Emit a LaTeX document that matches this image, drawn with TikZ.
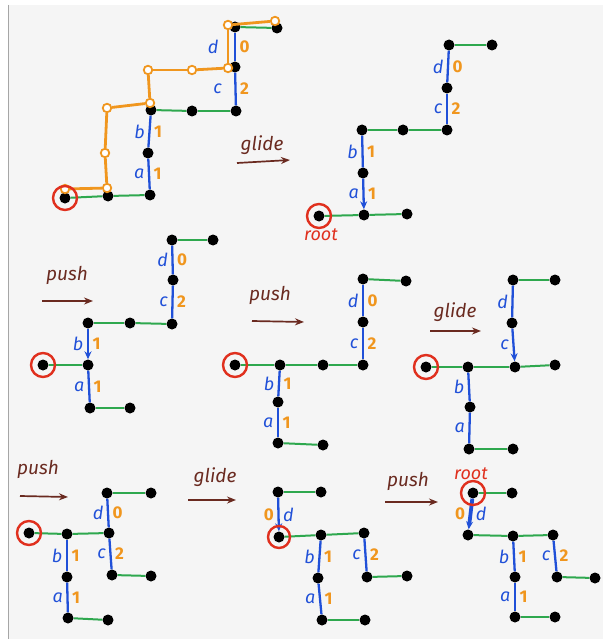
\documentclass[tikz,border=0pt]{standalone}
\usepackage{fontspec}
\setmainfont{Fira Sans}
\usetikzlibrary{arrows.meta}
\definecolor{blu}{RGB}{32,80,216}
\definecolor{org}{RGB}{240,150,30}
\definecolor{grn}{RGB}{46,168,78}
\definecolor{rred}{RGB}{224,48,30}
\definecolor{brn}{RGB}{106,42,32}
\definecolor{pagegray}{RGB}{245,245,245}
\tikzset{
  dot/.style={circle, fill=black, inner sep=0pt, minimum size=11pt},
  odot/.style={circle, draw=org, fill=white, line width=1.8pt, inner sep=0pt, minimum size=8.5pt},
  ring/.style={circle, draw=rred, line width=2.4pt, inner sep=0pt, minimum size=24pt},
  gedge/.style={draw=grn, line width=2pt},
  bedge/.style={draw=blu, line width=2.3pt},
  barrow/.style={draw=blu, line width=2.3pt, -{Stealth[length=8pt,width=7pt]}},
  oedge/.style={draw=org, line width=2.8pt},
  lt/.style={midway, left, inner sep=3.5pt, text=blu, font=\itshape\fontsize{18}{18}\selectfont},
  rt/.style={midway, right, inner sep=3.5pt, text=org, font=\bfseries\fontsize{17}{17}\selectfont},
  rtl/.style={midway, right, inner sep=3.5pt, text=blu, font=\itshape\fontsize{18}{18}\selectfont},
  ltn/.style={midway, left, inner sep=3.5pt, text=org, font=\bfseries\fontsize{17}{17}\selectfont},
  word/.style={text=brn, font=\itshape\fontsize{19}{19}\selectfont},
  rootword/.style={text=rred, font=\itshape\fontsize{18}{18}\selectfont},
  stepar/.style={draw=brn, line width=1.7pt, -{Stealth[length=9pt,width=7pt]}}
}
\begin{document}
\begin{tikzpicture}[x=1pt, y=-1pt]
\useasboundingbox (0,0) rectangle (603,639);
\fill[white] (0,0) rectangle (603,639);
\fill[pagegray] (8,5) rectangle (603,639);
\draw[gray!70, line width=1pt] (8,5) -- (8,639);

% ---------------- Panel 1 ----------------
\node[dot] (A1r) at (65,198) {};
\node[dot] (A1b) at (108,196) {};
\node[dot] (A1c) at (150,195) {};
\node[dot] (A1d) at (148,153) {};
\node[dot] (A1e) at (151,110) {};
\node[dot] (A1f) at (192,111) {};
\node[dot] (A1g) at (236,111) {};
\node[dot] (A1h) at (235,67) {};
\node[dot] (A1i) at (235,27) {};
\node[dot] (A1j) at (277,28) {};
\draw[gedge] (A1r) -- (A1b);
\draw[gedge] (A1b) -- (A1c);
\draw[gedge] (A1e) -- (A1f);
\draw[gedge] (A1f) -- (A1g);
\draw[gedge] (A1i) -- (A1j);
\draw[bedge] (A1c) -- node[lt]{a} node[rt]{1} (A1d);
\draw[bedge] (A1d) -- node[lt]{b} node[rt]{1} (A1e);
\draw[bedge] (A1g) -- node[lt, xshift=-9pt]{c} node[rt]{2} (A1h);
\draw[bedge] (A1h) -- node[lt, xshift=-12pt]{d} node[rt]{0} (A1i);
% orange path
\node[odot] (O1) at (65,189) {};
\node[odot] (O2) at (107,188) {};
\node[odot] (O3) at (105,153) {};
\node[odot] (O4) at (107,108) {};
\node[odot] (O5) at (150,103) {};
\node[odot] (O6) at (148,70) {};
\node[odot] (O7) at (192,70) {};
\node[odot] (O8) at (228,68) {};
\node[odot] (O9) at (228,25) {};
\node[odot] (O10) at (275,21) {};
\draw[oedge] (O1) -- (O2);
\draw[oedge] (O2) -- (O3);
\draw[oedge] (O3) -- (O4);
\draw[oedge] (O4) -- (O5);
\draw[oedge] (O5) -- (O6);
\draw[oedge] (O6) -- (O7);
\draw[oedge] (O7) -- (O8);
\draw[oedge] (O8) -- (O9);
\draw[oedge] (O9) -- (O10);
\node[ring] (A1ring) at (A1r) {};
\node[word] (W1) at (262,145) {glide};
\coordinate (W1s) at (237,163);
\coordinate (W1e) at (290,160);
\draw[stepar] (W1s) -- (W1e);

% ---------------- Panel 2 ----------------
\node[dot] (B2r) at (319,216) {};
\node[dot] (B2b) at (364,215) {};
\node[dot] (B2c) at (407,214) {};
\node[dot] (B2d) at (363,173) {};
\node[dot] (B2e) at (362,130) {};
\node[dot] (B2f) at (403,130) {};
\node[dot] (B2g) at (447,130) {};
\node[dot] (B2h) at (447,88) {};
\node[dot] (B2i) at (449,45) {};
\node[dot] (B2j) at (492,45) {};
\draw[gedge] (B2r) -- (B2b);
\draw[gedge] (B2b) -- (B2c);
\draw[gedge] (B2e) -- (B2f);
\draw[gedge] (B2f) -- (B2g);
\draw[gedge] (B2i) -- (B2j);
\draw[barrow] (B2d) -- node[lt]{a} node[rt]{1} (B2b);
\draw[bedge] (B2e) -- node[lt]{b} node[rt]{1} (B2d);
\draw[bedge] (B2g) -- node[lt]{c} node[rt]{2} (B2h);
\draw[bedge] (B2h) -- node[lt]{d} node[rt]{0} (B2i);
\node[ring] (B2ring) at (B2r) {};
\node[rootword] (B2root) at (321,235) {root};

% ---------------- Panel 3 ----------------
\node[dot] (C3r) at (43,365) {};
\node[dot] (C3b) at (88,365) {};
\node[dot] (C3d) at (88,323) {};
\node[dot] (C3m) at (90,408) {};
\node[dot] (C3n) at (130,408) {};
\node[dot] (C3f) at (130,323) {};
\node[dot] (C3g) at (172,324) {};
\node[dot] (C3h) at (173,280) {};
\node[dot] (C3i) at (172,240) {};
\node[dot] (C3j) at (213,240) {};
\draw[gedge] (C3r) -- (C3b);
\draw[gedge] (C3m) -- (C3n);
\draw[gedge] (C3d) -- (C3f);
\draw[gedge] (C3f) -- (C3g);
\draw[gedge] (C3i) -- (C3j);
\draw[barrow] (C3d) -- node[lt]{b} node[rt]{1} (C3b);
\draw[bedge] (C3b) -- node[lt]{a} node[rt]{1} (C3m);
\draw[bedge] (C3g) -- node[lt]{c} node[rt]{2} (C3h);
\draw[bedge] (C3h) -- node[lt]{d} node[rt]{0} (C3i);
\node[ring] (C3ring) at (C3r) {};
\node[word] (W3) at (67,275) {push};
\coordinate (W3s) at (42,301);
\coordinate (W3e) at (93,301);
\draw[stepar] (W3s) -- (W3e);

% ---------------- Panel 4 ----------------
\node[dot] (D4r) at (235,365) {};
\node[dot] (D4b) at (280,365) {};
\node[dot] (D4c) at (323,365) {};
\node[dot] (D4g) at (363,365) {};
\node[dot] (D4m) at (278,402) {};
\node[dot] (D4n) at (278,443) {};
\node[dot] (D4o) at (323,445) {};
\node[dot] (D4h) at (363,322) {};
\node[dot] (D4i) at (363,279) {};
\node[dot] (D4j) at (406,281) {};
\draw[gedge] (D4r) -- (D4b);
\draw[gedge] (D4b) -- (D4c);
\draw[gedge] (D4c) -- (D4g);
\draw[gedge] (D4n) -- (D4o);
\draw[gedge] (D4i) -- (D4j);
\draw[bedge] (D4b) -- node[lt]{b} node[rt]{1} (D4m);
\draw[bedge] (D4m) -- node[lt]{a} node[rt]{1} (D4n);
\draw[bedge] (D4g) -- node[lt]{c} node[rt]{2} (D4h);
\draw[bedge] (D4h) -- node[lt]{d} node[rt]{0} (D4i);
\node[ring] (D4ring) at (D4r) {};
\node[word] (W4) at (270,295) {push};
\coordinate (W4s) at (252,321);
\coordinate (W4e) at (304,322);
\draw[stepar] (W4s) -- (W4e);

% ---------------- Panel 5 ----------------
\node[dot] (E5r) at (426,367) {};
\node[dot] (E5b) at (468,367) {};
\node[dot] (E5c) at (515,367) {};
\node[dot] (E5k) at (555,365) {};
\node[dot] (E5m) at (470,407) {};
\node[dot] (E5n) at (469,449) {};
\node[dot] (E5o) at (513,449) {};
\node[dot] (E5h) at (512,323) {};
\node[dot] (E5i) at (513,280) {};
\node[dot] (E5j) at (555,280) {};
\draw[gedge] (E5r) -- (E5b);
\draw[gedge] (E5b) -- (E5c);
\draw[gedge] (E5c) -- (E5k);
\draw[gedge] (E5n) -- (E5o);
\draw[gedge] (E5i) -- (E5j);
\draw[bedge] (E5b) -- node[lt]{b} (E5m);
\draw[bedge] (E5m) -- node[lt]{a} (E5n);
\draw[bedge] (E5i) -- node[lt]{d} (E5h);
\draw[barrow] (E5h) -- node[lt]{c} (E5c);
\node[ring] (E5ring) at (E5r) {};
\node[word] (W5) at (455,312) {glide};
\coordinate (W5s) at (430,331);
\coordinate (W5e) at (481,331);
\draw[stepar] (W5s) -- (W5e);

% ---------------- Panel 6 ----------------
\node[dot] (F6r) at (29,533) {};
\node[dot] (F6b) at (67,534) {};
\node[dot] (F6c) at (109,533) {};
\node[dot] (F6m) at (67,577) {};
\node[dot] (F6n) at (68,618) {};
\node[dot] (F6o) at (108,620) {};
\node[dot] (F6t) at (107,493) {};
\node[dot] (F6u) at (151,493) {};
\node[dot] (F6p) at (112,575) {};
\node[dot] (F6q) at (151,576) {};
\draw[gedge] (F6r) -- (F6b);
\draw[gedge] (F6b) -- (F6c);
\draw[gedge] (F6n) -- (F6o);
\draw[gedge] (F6t) -- (F6u);
\draw[gedge] (F6p) -- (F6q);
\draw[bedge] (F6b) -- node[lt]{b} node[rt]{1} (F6m);
\draw[bedge] (F6m) -- node[lt]{a} node[rt]{1} (F6n);
\draw[bedge] (F6t) -- node[lt]{d} node[rt]{0} (F6c);
\draw[bedge] (F6c) -- node[lt]{c} node[rt]{2} (F6p);
\node[ring] (F6ring) at (F6r) {};
\node[word] (W6) at (38,469) {push};
\coordinate (W6s) at (20,496);
\coordinate (W6e) at (68,497);
\draw[stepar] (W6s) -- (W6e);

% ---------------- Panel 7 ----------------
\node[dot] (G7t) at (278,492) {};
\node[dot] (G7u) at (321,492) {};
\node[dot] (G7r) at (279,537) {};
\node[dot] (G7b) at (321,535) {};
\node[dot] (G7c) at (364,533) {};
\node[dot] (G7m) at (318,578) {};
\node[dot] (G7n) at (322,620) {};
\node[dot] (G7o) at (365,620) {};
\node[dot] (G7p) at (367,577) {};
\node[dot] (G7q) at (407,576) {};
\draw[gedge] (G7t) -- (G7u);
\draw[gedge] (G7r) -- (G7b);
\draw[gedge] (G7b) -- (G7c);
\draw[gedge] (G7n) -- (G7o);
\draw[gedge] (G7p) -- (G7q);
\draw[barrow] (G7t) -- node[rtl]{d} node[ltn]{0} (G7r);
\draw[bedge] (G7b) -- node[lt]{b} node[rt]{1} (G7m);
\draw[bedge] (G7m) -- node[lt]{a} node[rt]{1} (G7n);
\draw[bedge] (G7c) -- node[lt]{c} node[rt]{2} (G7p);
\node[ring, minimum size=22pt] (G7ring) at (G7r) {};
\node[word] (W7) at (215,477) {glide};
\coordinate (W7s) at (188,500);
\coordinate (W7e) at (236,500);
\draw[stepar] (W7s) -- (W7e);

% ---------------- Panel 8 ----------------
\node[dot] (H8r) at (473,493) {};
\node[dot] (H8s) at (512,493) {};
\node[dot] (H8a) at (468,535) {};
\node[dot] (H8b) at (513,536) {};
\node[dot] (H8c) at (553,535) {};
\node[dot] (H8m) at (515,577) {};
\node[dot] (H8n) at (515,617) {};
\node[dot] (H8o) at (555,617) {};
\node[dot] (H8p) at (557,577) {};
\node[dot] (H8q) at (595,578) {};
\draw[gedge] (H8r) -- (H8s);
\draw[gedge] (H8a) -- (H8b);
\draw[gedge] (H8b) -- (H8c);
\draw[gedge] (H8n) -- (H8o);
\draw[gedge] (H8p) -- (H8q);
\draw[barrow, line width=3.8pt] (H8r) -- node[rtl]{d} node[ltn]{0} (H8a);
\draw[bedge] (H8b) -- node[lt]{b} node[rt]{1} (H8m);
\draw[bedge] (H8m) -- node[lt]{a} node[rt]{1} (H8n);
\draw[bedge] (H8c) -- node[lt]{c} node[rt]{2} (H8p);
\node[ring] (H8ring) at (H8r) {};
\node[rootword] (H8root) at (471,474) {root};
\node[word] (W8) at (408,481) {push};
\coordinate (W8s) at (385,502);
\coordinate (W8e) at (438,502);
\draw[stepar] (W8s) -- (W8e);
\end{tikzpicture}
\end{document}
